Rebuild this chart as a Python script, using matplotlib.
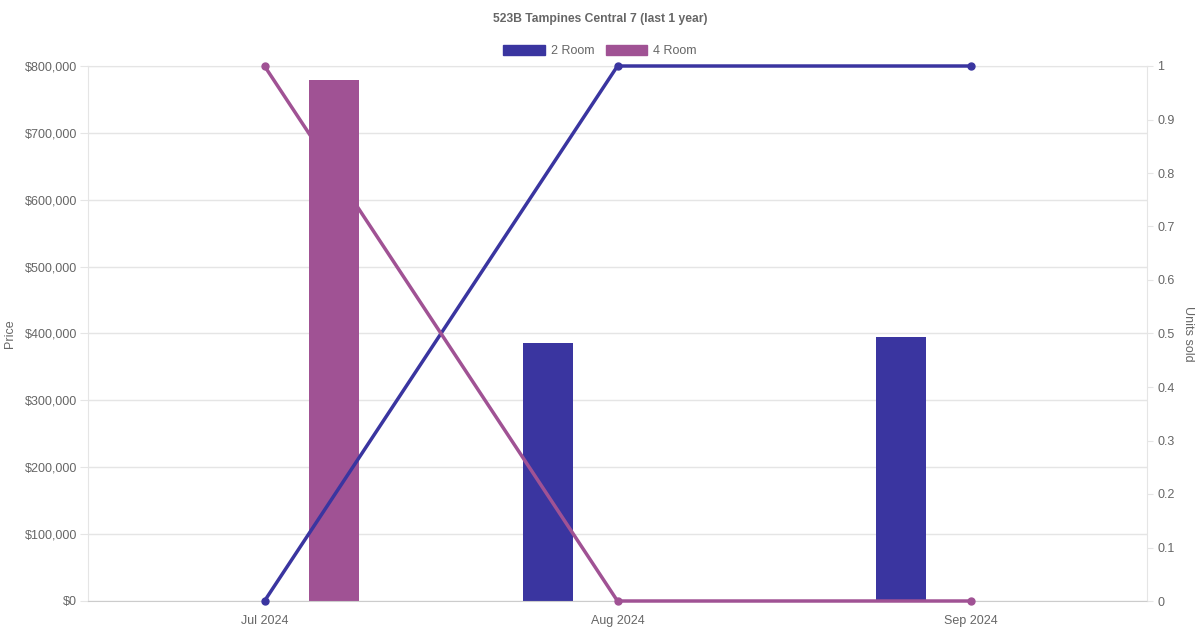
import matplotlib
matplotlib.use("Agg")
import matplotlib.pyplot as plt
from matplotlib.ticker import FuncFormatter, MultipleLocator
from matplotlib.patches import Patch
import numpy as np

months = ["Jul 2024", "Aug 2024", "Sep 2024"]
price_2room = [np.nan, 386000, 395000]
price_4room = [779000, np.nan, np.nan]
units_2room = [0, 1, 1]
units_4room = [1, 0, 0]

c2 = "#3a35a0"
c4 = "#a05294"
grey = "#666666"
gridc = "#e5e5e5"

plt.rcParams["font.family"] = ["Liberation Sans", "DejaVu Sans"]

fig = plt.figure(figsize=(12, 6.3), dpi=100)
ax = fig.add_axes([88 / 1200, 29 / 630, 1059 / 1200, 535 / 630])
x = np.arange(len(months))
w = 0.1416
off = 0.198

ax.bar(x - off, price_2room, width=w, color=c2, zorder=2)
ax.bar(x + off, price_4room, width=w, color=c4, zorder=2)

ax.set_xlim(-0.5, 2.5)
ax.set_ylim(0, 800000)
ax.yaxis.set_major_locator(MultipleLocator(100000))
ax.yaxis.set_major_formatter(FuncFormatter(lambda v, p: f"${v:,.0f}"))
ax.set_xticks(x)
ax.set_xticklabels(months)
ax.grid(axis="y", color=gridc, linewidth=1, zorder=0)
ax.tick_params(axis="y", length=6, color=gridc, labelcolor=grey, labelsize=9, pad=2)
ax.tick_params(axis="x", length=0, labelcolor=grey, labelsize=9, pad=10)
for s in ax.spines.values():
    s.set_color(gridc)
ax.spines["bottom"].set_color("#cccccc")
ax.set_ylabel("Price", color=grey, fontsize=9, va="center")
ax.yaxis.set_label_coords(-0.0737, 0.5)

ax2 = ax.twinx()
ax2.plot(x, units_2room, color=c2, linewidth=2.5, marker="o", markersize=5,
         zorder=3, clip_on=False)
ax2.plot(x, units_4room, color=c4, linewidth=2.5, marker="o", markersize=5,
         zorder=3, clip_on=False)
ax2.set_ylim(0, 1)
ax2.yaxis.set_major_locator(MultipleLocator(0.1))
ax2.yaxis.set_major_formatter(FuncFormatter(lambda v, p: f"{v:g}"))
ax2.tick_params(axis="y", length=4.5, color=gridc, labelcolor=grey, labelsize=9, pad=3)
for s in ax2.spines.values():
    s.set_visible(False)
ax2.set_ylabel("Units sold", color=grey, fontsize=9, rotation=270, va="center")
ax2.yaxis.set_label_coords(1.0385, 0.5)

fig.suptitle("523B Tampines Central 7 (last 1 year)", y=0.98, fontsize=8.7,
             fontweight="bold", color=grey)
handles = [Patch(facecolor=c2, edgecolor=c2), Patch(facecolor=c4, edgecolor=c4)]
fig.legend(handles, ["2 Room", "4 Room"], loc="center", bbox_to_anchor=(0.5, 0.919),
           ncol=2, frameon=False, fontsize=9, labelcolor=grey,
           handlelength=3.3, handleheight=0.9, handletextpad=0.5, columnspacing=0.9)

fig.savefig("out.png", dpi=100)
